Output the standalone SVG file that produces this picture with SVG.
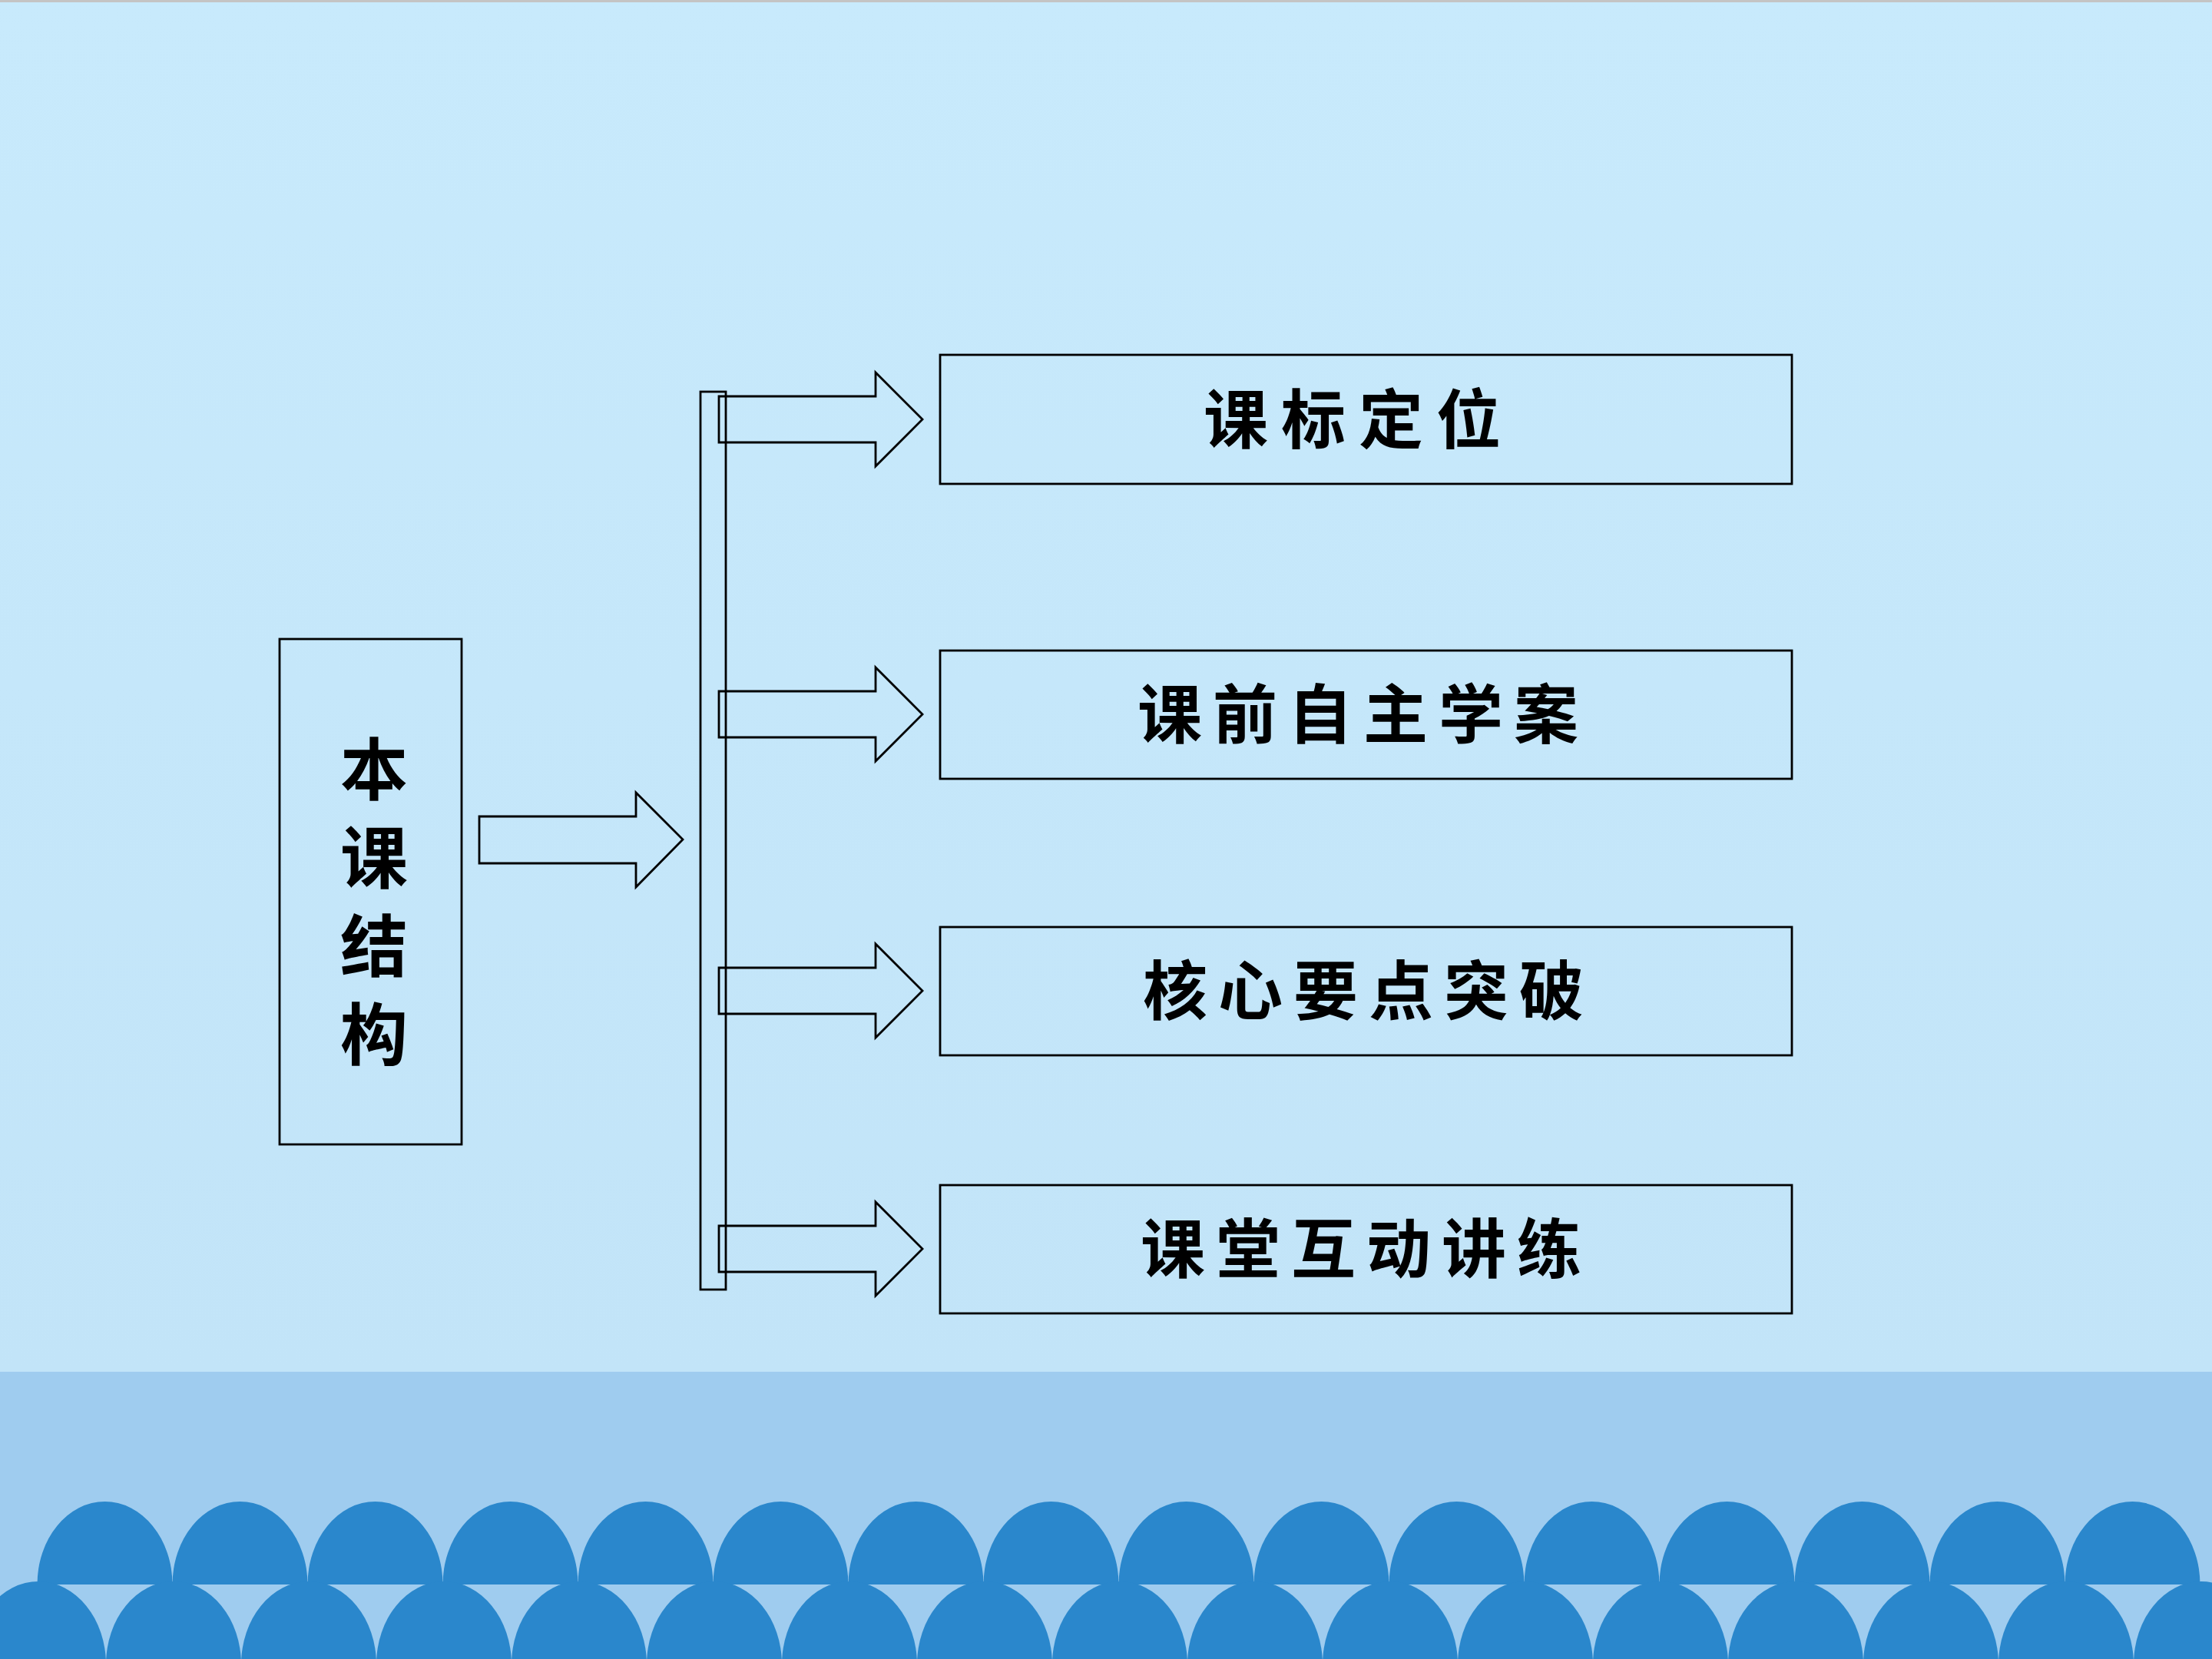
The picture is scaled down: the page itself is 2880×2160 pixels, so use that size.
<svg xmlns="http://www.w3.org/2000/svg" width="2880" height="2160" viewBox="0 0 2880 2160">
<defs>
<linearGradient id="bg" x1="0" y1="0" x2="0" y2="1">
<stop offset="0" stop-color="#C8EAFC"/>
<stop offset="1" stop-color="#C2E4F8"/>
</linearGradient>
<style>
.box{fill:none;stroke:#000;stroke-width:2.8}
.arr{fill:none;stroke:#000;stroke-width:2.8;stroke-linejoin:miter}
.lbl{font-family:"Noto Sans CJK SC","Noto Sans CJK TC",sans-serif;font-weight:700;font-size:84px;fill:#000;dominant-baseline:central}
.vt{font-family:"Noto Sans CJK SC","Noto Sans CJK TC",sans-serif;font-weight:700;font-size:88px;fill:#000;dominant-baseline:central;text-anchor:middle}
.dome{fill:#2A87CC}
</style>
<path id="d" d="M-88,0 A88,108 0 0 1 88,0 Z"/>
</defs>
<rect x="0" y="0" width="2880" height="1786" fill="url(#bg)"/>
<rect x="0" y="0" width="2880" height="3" fill="#C4C4C4"/>
<rect x="0" y="1786" width="2880" height="374" fill="#9FCCEF"/>
<g id="waves">
<g transform="translate(136.5,2063)">
<use href="#d" class="dome" x="0"/><use href="#d" class="dome" x="176"/><use href="#d" class="dome" x="352"/><use href="#d" class="dome" x="528"/>
<use href="#d" class="dome" x="704"/><use href="#d" class="dome" x="880"/><use href="#d" class="dome" x="1056"/><use href="#d" class="dome" x="1232"/>
<use href="#d" class="dome" x="1408"/><use href="#d" class="dome" x="1584"/><use href="#d" class="dome" x="1760"/><use href="#d" class="dome" x="1936"/>
<use href="#d" class="dome" x="2112"/><use href="#d" class="dome" x="2288"/><use href="#d" class="dome" x="2464"/><use href="#d" class="dome" x="2640"/>
</g>
<g transform="translate(50,2167)">
<use href="#d" class="dome" x="0"/><use href="#d" class="dome" x="176"/><use href="#d" class="dome" x="352"/><use href="#d" class="dome" x="528"/>
<use href="#d" class="dome" x="704"/><use href="#d" class="dome" x="880"/><use href="#d" class="dome" x="1056"/><use href="#d" class="dome" x="1232"/>
<use href="#d" class="dome" x="1408"/><use href="#d" class="dome" x="1584"/><use href="#d" class="dome" x="1760"/><use href="#d" class="dome" x="1936"/>
<use href="#d" class="dome" x="2112"/><use href="#d" class="dome" x="2288"/><use href="#d" class="dome" x="2464"/><use href="#d" class="dome" x="2640"/>
<use href="#d" class="dome" x="2816"/>
</g>
</g>
<g id="node-root">
<rect class="box" x="364" y="832" width="237" height="658"/>
<text class="vt" x="487" y="995">本</text>
<text class="vt" x="487" y="1110">课</text>
<text class="vt" x="487" y="1225">结</text>
<text class="vt" x="487" y="1340">构</text>
</g>
<g id="connectors">
<polygon class="arr" points="624,1063 828,1063 828,1032 889,1093 828,1155 828,1124 624,1124"/>
<rect class="box" x="912" y="510" width="33" height="1169"/>
<polygon class="arr" points="936,516 1140,516 1140,485 1201,546 1140,607 1140,576 936,576"/>
<polygon class="arr" points="936,900 1140,900 1140,869 1201,930 1140,991 1140,960 936,960"/>
<polygon class="arr" points="936,1260 1140,1260 1140,1229 1201,1290 1140,1351 1140,1320 936,1320"/>
<polygon class="arr" points="936,1596 1140,1596 1140,1565 1201,1626 1140,1687 1140,1656 936,1656"/>
</g>
<g id="node-1">
<rect class="box" x="1224" y="462" width="1109" height="168"/>
<text class="lbl" x="1567" y="540" letter-spacing="17">课标定位</text>
</g>
<g id="node-2">
<rect class="box" x="1224" y="847" width="1109" height="167"/>
<text class="lbl" x="1481" y="924" letter-spacing="14">课前自主学案</text>
</g>
<g id="node-3">
<rect class="box" x="1224" y="1207" width="1109" height="167"/>
<text class="lbl" x="1488" y="1284" letter-spacing="14">核心要点突破</text>
</g>
<g id="node-4">
<rect class="box" x="1224" y="1543" width="1109" height="167"/>
<text class="lbl" x="1485" y="1620" letter-spacing="14">课堂互动讲练</text>
</g>
</svg>
